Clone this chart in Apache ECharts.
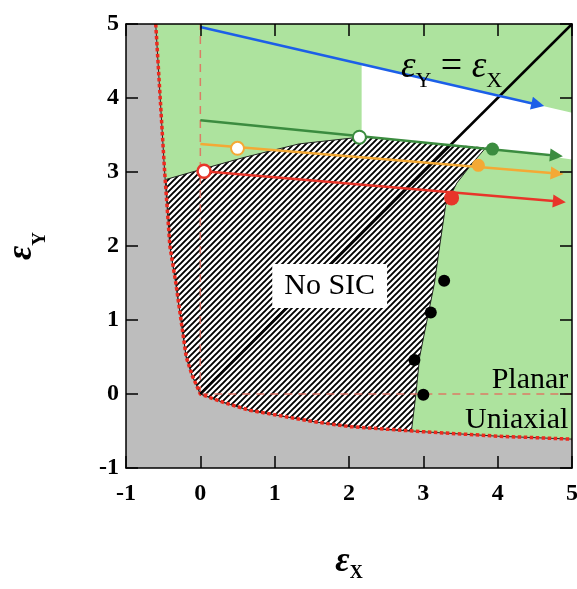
<!DOCTYPE html>
<html><head><meta charset="utf-8">
<script src="https://cdn.jsdelivr.net/npm/echarts@6/dist/echarts.min.js"></script>
<style>html,body{margin:0;padding:0;background:#fff}#c{width:577px;height:589px}</style>
</head><body><div id="c"></div>
<script>
// ---------- data (in axis units) ----------
const xTicks = [-1, 0, 1, 2, 3, 4, 5];
const yTicks = [-1, 0, 1, 2, 3, 4, 5];
const boundary = [[-0.6,5],[-0.54,4],[-0.48,3],[-0.41,2],[-0.33,1.5],[-0.26,1],[-0.19,0.5],[-0.11,0.25],[0,0],[0.3,-0.11],[0.66,-0.22],[1,-0.28],[1.5,-0.37],[2,-0.44],[3,-0.51],[4,-0.57],[5,-0.61]];
const noSicTop = [[-0.46,2.9],[0.1,3.06],[0.6,3.2],[1.33,3.38],[2.14,3.47],[3.0,3.44],[3.6,3.39],[3.85,3.34]];
const noSicRight = [[3.66,3.12],[3.45,2.85],[3.3,2.55],[3.22,2.0],[3.15,1.5],[3.05,1.0],[2.95,0.5],[2.9,0],[2.84,-0.5]];
const noSicBottomLeft = [[2.5,-0.48],[2,-0.44],[1.5,-0.37],[1,-0.28],[0.66,-0.22],[0.3,-0.11],[0,0],[-0.11,0.25],[-0.19,0.5],[-0.26,1],[-0.33,1.5],[-0.41,2]];
const whiteRegion = [[2.17,4.458],[5,3.80],[5,3.17],[3.85,3.33],[2.17,3.47]];
const blueArrow = [[0,4.96],[4.54,3.91]];
const greenArrow = [[0,3.7],[4.79,3.22]];
const orangeArrow = [[0,3.38],[4.80,2.98]];
const redArrow = [[0.05,3.01],[4.83,2.60]];
const openGreen = [2.14,3.47], openOrange = [0.5,3.32], openRed = [0.05,3.01];
const fillGreen = [3.93,3.31], fillOrange = [3.74,3.09], fillRed = [3.38,2.65];
const blackDots = [[3.28,1.53],[3.1,1.1],[2.88,0.46],[3.0,-0.01]];
const diagonal = [[0,0],[5,5]];
const dashVertical = [[0,0],[0,5]];
const dashHorizontal = [[0,0],[5,0]];
const noSicAt = [1.74,1.46];
const eqAt = [3.38,4.42];
const planarAt = [4.95,0.19];
const uniaxialAt = [4.95,-0.35];

// ---------- styles ----------
const GREEN_FILL = '#ade39e', GRAY_FILL = '#bdbdbd';
const BLUE = '#1c5fe8', DKGREEN = '#3b8c3f', ORANGE = '#f4a935', RED = '#e8352a';
const SERIF = 'Liberation Serif';

const tile = document.createElement('canvas');
tile.width = 6; tile.height = 6;
const g = tile.getContext('2d');
g.fillStyle = '#fff'; g.fillRect(0,0,6,6);
g.strokeStyle = '#000'; g.lineWidth = 1.9;
g.beginPath();
g.moveTo(-1,7); g.lineTo(7,-1);
g.moveTo(-1,1); g.lineTo(1,-1);
g.moveTo(5,7); g.lineTo(7,5);
g.stroke();

const greenRegion = boundary.concat([[5,5]]);
const grayRegion = boundary.concat([[5,-1],[-1,-1],[-1,5]]);
const noSicRegion = noSicTop.concat(noSicRight, noSicBottomLeft);

function poly(points, style, z) {
  return {type:'custom', coordinateSystem:'cartesian2d', z, silent:true, animation:false,
    data:[[0,0]],
    renderItem:(p, api) => ({type:'polygon', shape:{points: points.map(q => api.coord(q))}, style})};
}
function seg(points, lineStyle, z) {
  return {type:'line', data:points, z, symbol:'none', showSymbol:false, silent:true, animation:false, lineStyle};
}
function arrow(points, color, z) {
  return {type:'lines', coordinateSystem:'cartesian2d', z, silent:true, animation:false,
    symbol:['none','triangle'], symbolSize:13,
    lineStyle:{color, width:2.5, opacity:1}, itemStyle:{color, opacity:1},
    data:[{coords: points}]};
}
function label(at, text, labelOpt, z) {
  return {type:'scatter', z, silent:true, animation:false, symbolSize:0,
    itemStyle:{opacity:1},
    data:[{value:at}],
    label:Object.assign({show:true, formatter:text, color:'#000', opacity:1, fontFamily:SERIF, fontSize:30}, labelOpt)};
}

const axisCommon = {type:'value', min:-1, max:5, interval:1, z:30,
  splitLine:{show:false},
  axisLine:{show:true, onZero:false, lineStyle:{color:'#000', width:1.5}},
  axisTick:{show:true, inside:true, length:12, lineStyle:{color:'#000', width:1.5}}};

const labelStyle = {color:'#000', fontFamily:SERIF, fontWeight:'bold', fontSize:24, showMinLabel:true, showMaxLabel:true};

const option = {
  animation:false,
  grid:{left:126, top:24, width:446, height:444, containLabel:false, outerBoundsMode:'none'},
  xAxis:[
    Object.assign({}, axisCommon, {position:'bottom',
      axisLabel:Object.assign({margin:14, customValues:xTicks}, labelStyle),
      name:'{e|ε}{s|X}', nameLocation:'middle', nameGap:74,
      nameTextStyle:{rich:{
        e:{fontFamily:SERIF, fontStyle:'italic', fontWeight:'bold', fontSize:35, lineHeight:40, color:'#000'},
        s:{fontFamily:SERIF, fontWeight:'bold', fontSize:18, lineHeight:18, verticalAlign:'bottom', color:'#000'}}}}),
    Object.assign({}, axisCommon, {position:'top', axisLabel:{show:false}})
  ],
  yAxis:[
    Object.assign({}, axisCommon, {position:'left',
      axisLabel:Object.assign({margin:7, customValues:yTicks}, labelStyle),
      name:'{e|ε}{s|Y}', nameLocation:'middle', nameGap:76, nameRotate:90,
      nameTextStyle:{rich:{
        e:{fontFamily:SERIF, fontStyle:'italic', fontWeight:'bold', fontSize:35, lineHeight:56, color:'#000'},
        s:{fontFamily:SERIF, fontWeight:'bold', fontSize:19, lineHeight:18, verticalAlign:'bottom', color:'#000'}}}}),
    Object.assign({}, axisCommon, {position:'right', axisLabel:{show:false}})
  ],
  series:[
    poly(greenRegion, {fill:GREEN_FILL}, 1),
    poly(grayRegion, {fill:GRAY_FILL}, 2),
    poly(noSicRegion, {fill:{image:tile, repeat:'repeat'}, stroke:'#222', lineWidth:1}, 3),
    poly(whiteRegion, {fill:'#fff'}, 4),
    seg(dashVertical, {color:'#e46a5a', width:1.5, type:[8,6], opacity:0.85}, 5),
    seg(dashHorizontal, {color:'#e46a5a', width:1.5, type:[8,6], opacity:0.85}, 5),
    seg(boundary, {color:'#222', width:1}, 6),
    seg(boundary, {color:'#ee2a1e', width:3.5, type:[3.5,2.5]}, 7),
    seg(diagonal, {color:'#000', width:2.5}, 8),
    arrow(blueArrow, BLUE, 9),
    arrow(greenArrow, DKGREEN, 9),
    arrow(orangeArrow, ORANGE, 9),
    arrow(redArrow, RED, 9),
    {type:'scatter', z:10, silent:true, animation:false, symbolSize:13, itemStyle:{opacity:1},
      data:[
        {value:openGreen, itemStyle:{color:'#fff', borderColor:DKGREEN, borderWidth:2, opacity:1}},
        {value:openOrange, itemStyle:{color:'#fff', borderColor:ORANGE, borderWidth:2, opacity:1}},
        {value:openRed, itemStyle:{color:'#fff', borderColor:RED, borderWidth:2.5, opacity:1}},
        {value:fillGreen, itemStyle:{color:DKGREEN, opacity:1}},
        {value:fillOrange, itemStyle:{color:ORANGE, opacity:1}},
        {value:fillRed, itemStyle:{color:RED, opacity:1}, symbolSize:15}
      ]},
    {type:'scatter', z:10, silent:true, animation:false, symbolSize:12, itemStyle:{color:'#000', opacity:1}, data:blackDots},
    label(noSicAt, 'No SIC', {position:'inside', backgroundColor:'#fff', padding:[8,12,6,12]}, 11),
    label(eqAt, '{e|ε}{s|Y}{o| = }{e|ε}{s|X}', {position:'inside',
      rich:{
        e:{fontFamily:SERIF, fontStyle:'italic', fontSize:37, lineHeight:50, color:'#000'},
        s:{fontFamily:SERIF, fontSize:22, lineHeight:22, verticalAlign:'bottom', color:'#000'},
        o:{fontFamily:SERIF, fontSize:38, lineHeight:50, color:'#000'}}}, 11),
    label(planarAt, 'Planar', {position:'left', distance:0}, 11),
    label(uniaxialAt, 'Uniaxial', {position:'left', distance:0}, 11)
  ]
};
const chart = echarts.init(document.getElementById('c'), null, {renderer:'canvas'});
chart.setOption(option);
</script>
</body></html>
